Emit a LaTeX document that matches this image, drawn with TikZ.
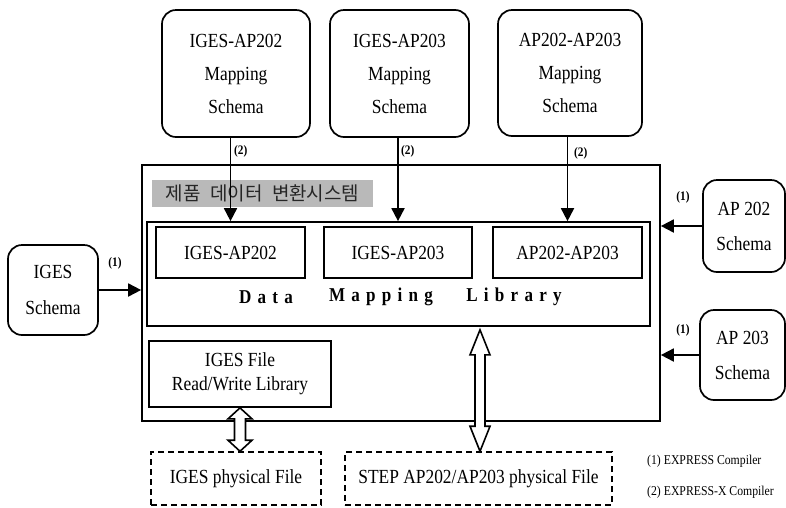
\documentclass[tikz,border=0pt]{standalone}
\usepackage{fontspec}
\setmainfont{Liberation Serif}[FakeStretch=0.87]
\newfontfamily\krfont{Noto Sans CJK KR}
\usetikzlibrary{arrows.meta,calc}
\newcommand{\dblarr}[5]{\draw[dbl] (#1) -- ($(#1)+(#4,#5)$) -- ($(#1)+(#3,#5)$) -- ($(#2)+(#3,-#5)$) -- ($(#2)+(#4,-#5)$) -- (#2) -- ($(#2)+(-#4,-#5)$) -- ($(#2)+(-#3,-#5)$) -- ($(#1)+(-#3,#5)$) -- ($(#1)+(-#4,#5)$) -- cycle;}
\begin{document}
\begin{tikzpicture}[x=1pt,y=-1pt,
  box/.style={draw, line width=1.7pt, align=center, inner sep=0pt, font=\fontsize{20}{33}\selectfont},
  rbox/.style={box, rounded corners=14pt},
  dbox/.style={draw, line width=1.5pt, dash pattern=on 6pt off 4pt, inner sep=0pt, font=\fontsize{20}{24}\selectfont},
  arr/.style={line width=1.8pt, -{Triangle[length=13pt,width=13pt]}},
  lbl/.style={font=\fontsize{13}{15}\selectfont\bfseries, inner sep=0pt},
  dml/.style={inner sep=0pt, font=\fontsize{19.6}{22}\selectfont\bfseries\addfontfeature{LetterSpace=32}},
  leg/.style={inner sep=0pt, anchor=west, font=\fontsize{13.5}{16}\selectfont},
  dbl/.style={line width=1.6pt, fill=white, line join=miter},
]
\useasboundingbox (0,0) rectangle (786,507);

% outer system box and inner library
\node[box, minimum width=518pt, minimum height=256pt] (sys) at (401,293) {};
\node[box, minimum width=503pt, minimum height=104pt] (lib) at (398.5,274) {};
\node[inner sep=0pt, fill=gray!55, text=black!85, minimum width=221pt, minimum height=27pt, font=\krfont\fontsize{19}{22}\selectfont] (kr) at (262.5,193.5) {제품\hspace{0.5em}데이터\hspace{0.5em}변환시스템};

% mapping boxes
\node[box, minimum width=149pt, minimum height=51pt] (ig1) at (230.5,252.5) {IGES-AP202};
\node[box, minimum width=148pt, minimum height=51pt] (ig2) at (398,252.5) {IGES-AP203};
\node[box, minimum width=149pt, minimum height=51pt] (ig3) at (567.5,252.5) {AP202-AP203};
\node[dml] (w1) at (266,297) {Data};
\node[dml] (w2) at (381,297) {Mapping};
\node[dml] (w3) at (514,297) {Library};

\node[box, minimum width=182pt, minimum height=66pt, font=\fontsize{20}{24}\selectfont] (igf) at (240,374) {IGES File\\Read/Write Library};

% top schema boxes
\node[rbox, minimum width=148pt, minimum height=127pt] (t1) at (236,73.5) {IGES-AP202\\Mapping\\Schema};
\node[rbox, minimum width=139pt, minimum height=127pt] (t2) at (399.5,73.5) {IGES-AP203\\Mapping\\Schema};
\node[rbox, minimum width=144pt, minimum height=126pt] (t3) at (570,73) {AP202-AP203\\Mapping\\Schema};

% side schema boxes
\node[rbox, minimum width=90pt, minimum height=90pt, font=\fontsize{20}{36}\selectfont] (ig) at (53,290) {IGES\\Schema};
\node[rbox, minimum width=82pt, minimum height=92pt, font=\fontsize{20}{35}\selectfont] (a2) at (744,226) {AP 202\\Schema};
\node[rbox, minimum width=85pt, minimum height=90pt, font=\fontsize{20}{35}\selectfont] (a3) at (742.5,355) {AP 203\\Schema};

% physical files
\node[dbox, minimum width=170pt, minimum height=53pt] (ip) at (236,478.5) {IGES physical File};
\node[dbox, minimum width=267pt, minimum height=53pt] (sp) at (478.5,478.5) {STEP AP202/AP203 physical File};

% arrows (2)
\draw[arr] (t1.south -| ig1.north) -- (ig1.north |- lib.north);
\draw[arr] (t2.south -| ig2.north) -- (ig2.north |- lib.north);
\draw[arr] (t3.south -| ig3.north) -- (ig3.north |- lib.north);
\node[lbl, anchor=west] (l21) at (234,151) {(2)};
\node[lbl, anchor=west] (l22) at (401,151) {(2)};
\node[lbl, anchor=west] (l23) at (574,153) {(2)};

% arrows (1)
\draw[arr] (ig.east) -- (ig.east -| sys.west);
\draw[arr] (a2.west) -- (a2.west -| sys.east);
\draw[arr] (a3.west) -- (a3.west -| sys.east);
\node[lbl] (l11) at (115,263) {(1)};
\node[lbl] (l12) at (683,197) {(1)};
\node[lbl] (l13) at (683,330) {(1)};

% double arrows
\coordinate (s1) at ($(lib.south -| sp.north)+(1.5,3)$);
\coordinate (s2) at ($(sp.north)+(1.5,0)$);
\dblarr{s1}{s2}{5}{10}{25}
\coordinate (g1) at (igf.south);
\coordinate (g2) at (igf.south |- ip.north);
\dblarr{g1}{g2}{5.5}{12}{11}

% legend
\node[leg] (lg1) at (647,461) {(1) EXPRESS Compiler};
\node[leg] (lg2) at (647,492) {(2) EXPRESS-X Compiler};
\end{tikzpicture}
\end{document}
